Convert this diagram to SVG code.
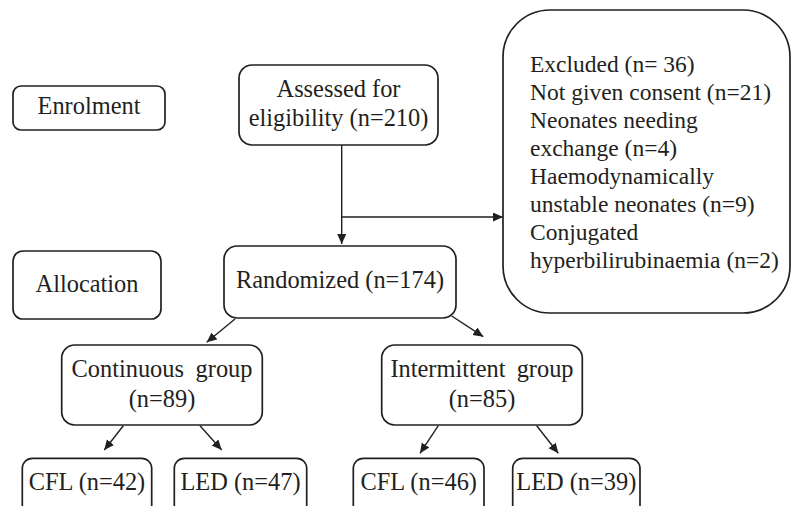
<svg xmlns="http://www.w3.org/2000/svg" width="791" height="506" viewBox="0 0 791 506">
<defs>
<marker id="arr" markerUnits="userSpaceOnUse" markerWidth="11" markerHeight="10" refX="10" refY="4.5" orient="auto">
<path d="M0,0 L10,4.5 L0,9 z" fill="#231f20"/>
</marker>
<style>
.box{fill:#fff;stroke:#231f20;stroke-width:1.7}
.t{font-family:"Liberation Serif","Times New Roman",serif;font-size:24.4px;fill:#231f20;text-anchor:middle}
.tl{font-family:"Liberation Serif","Times New Roman",serif;font-size:23.5px;fill:#231f20}
.c{fill:none;stroke:#231f20;stroke-width:1.4;marker-end:url(#arr)}
</style>
</defs>
<rect width="791" height="506" fill="#fff"/>
<g id="connectors">
<line class="c" x1="341.7" y1="145" x2="341.7" y2="244"/>
<line class="c" x1="341.7" y1="217" x2="503" y2="217"/>
<line class="c" x1="235" y1="319" x2="206.7" y2="342.3"/>
<line class="c" x1="451.7" y1="316" x2="483.3" y2="336.7"/>
<line class="c" x1="123.3" y1="425.7" x2="104.3" y2="450"/>
<line class="c" x1="200" y1="425.7" x2="221.7" y2="450"/>
<line class="c" x1="438.3" y1="425.7" x2="420" y2="453.3"/>
<line class="c" x1="536.7" y1="425.7" x2="558.3" y2="453.3"/>
</g>
<g id="enrolment">
<rect class="box" x="13" y="86" width="152" height="44" rx="8"/>
<text class="t" x="89" y="114.3">Enrolment</text>
</g>
<g id="allocation">
<rect class="box" x="13" y="251" width="148" height="68" rx="10"/>
<text class="t" x="87" y="291.7">Allocation</text>
</g>
<g id="assessed">
<rect class="box" x="239" y="65" width="199" height="80" rx="13"/>
<text class="t" x="338.5" y="96.7">Assessed for</text>
<text class="t" x="338.5" y="126">eligibility (n=210)</text>
</g>
<g id="randomized">
<rect class="box" x="224" y="246" width="232" height="72" rx="13"/>
<text class="t" x="340" y="288">Randomized (n=174)</text>
</g>
<g id="excluded">
<rect class="box" x="503" y="10" width="287" height="303" rx="47"/>
<text class="tl" x="530">
<tspan x="530" y="71.7">Excluded (n= 36)</tspan>
<tspan x="530" y="99.7">Not given consent (n=21)</tspan>
<tspan x="530" y="127.7">Neonates needing</tspan>
<tspan x="530" y="155.8">exchange (n=4)</tspan>
<tspan x="530" y="183.9">Haemodynamically</tspan>
<tspan x="530" y="212">unstable neonates (n=9)</tspan>
<tspan x="530" y="240">Conjugated</tspan>
<tspan x="530" y="268">hyperbilirubinaemia (n=2)</tspan>
</text>
</g>
<g id="continuous">
<rect class="box" x="61.7" y="345" width="200.6" height="80" rx="13"/>
<text class="t" x="162" y="376.7" word-spacing="5.5">Continuous group</text>
<text class="t" x="162" y="406.7">(n=89)</text>
</g>
<g id="intermittent">
<rect class="box" x="381.7" y="345" width="200.6" height="80" rx="13"/>
<text class="t" x="482" y="376.7" word-spacing="5">Intermittent group</text>
<text class="t" x="482" y="406.7">(n=85)</text>
</g>
<g id="cfl42">
<rect class="box" x="22.3" y="458.3" width="129.4" height="60" rx="10"/>
<text class="t" x="87" y="490">CFL (n=42)</text>
</g>
<g id="led47">
<rect class="box" x="174.3" y="458.3" width="132.4" height="60" rx="10"/>
<text class="t" x="240.5" y="490">LED (n=47)</text>
</g>
<g id="cfl46">
<rect class="box" x="353.3" y="458.3" width="130.7" height="60" rx="10"/>
<text class="t" x="418.7" y="490">CFL (n=46)</text>
</g>
<g id="led39">
<rect class="box" x="512.7" y="458.3" width="127.3" height="60" rx="10"/>
<text class="t" x="576.3" y="490">LED (n=39)</text>
</g>
</svg>
